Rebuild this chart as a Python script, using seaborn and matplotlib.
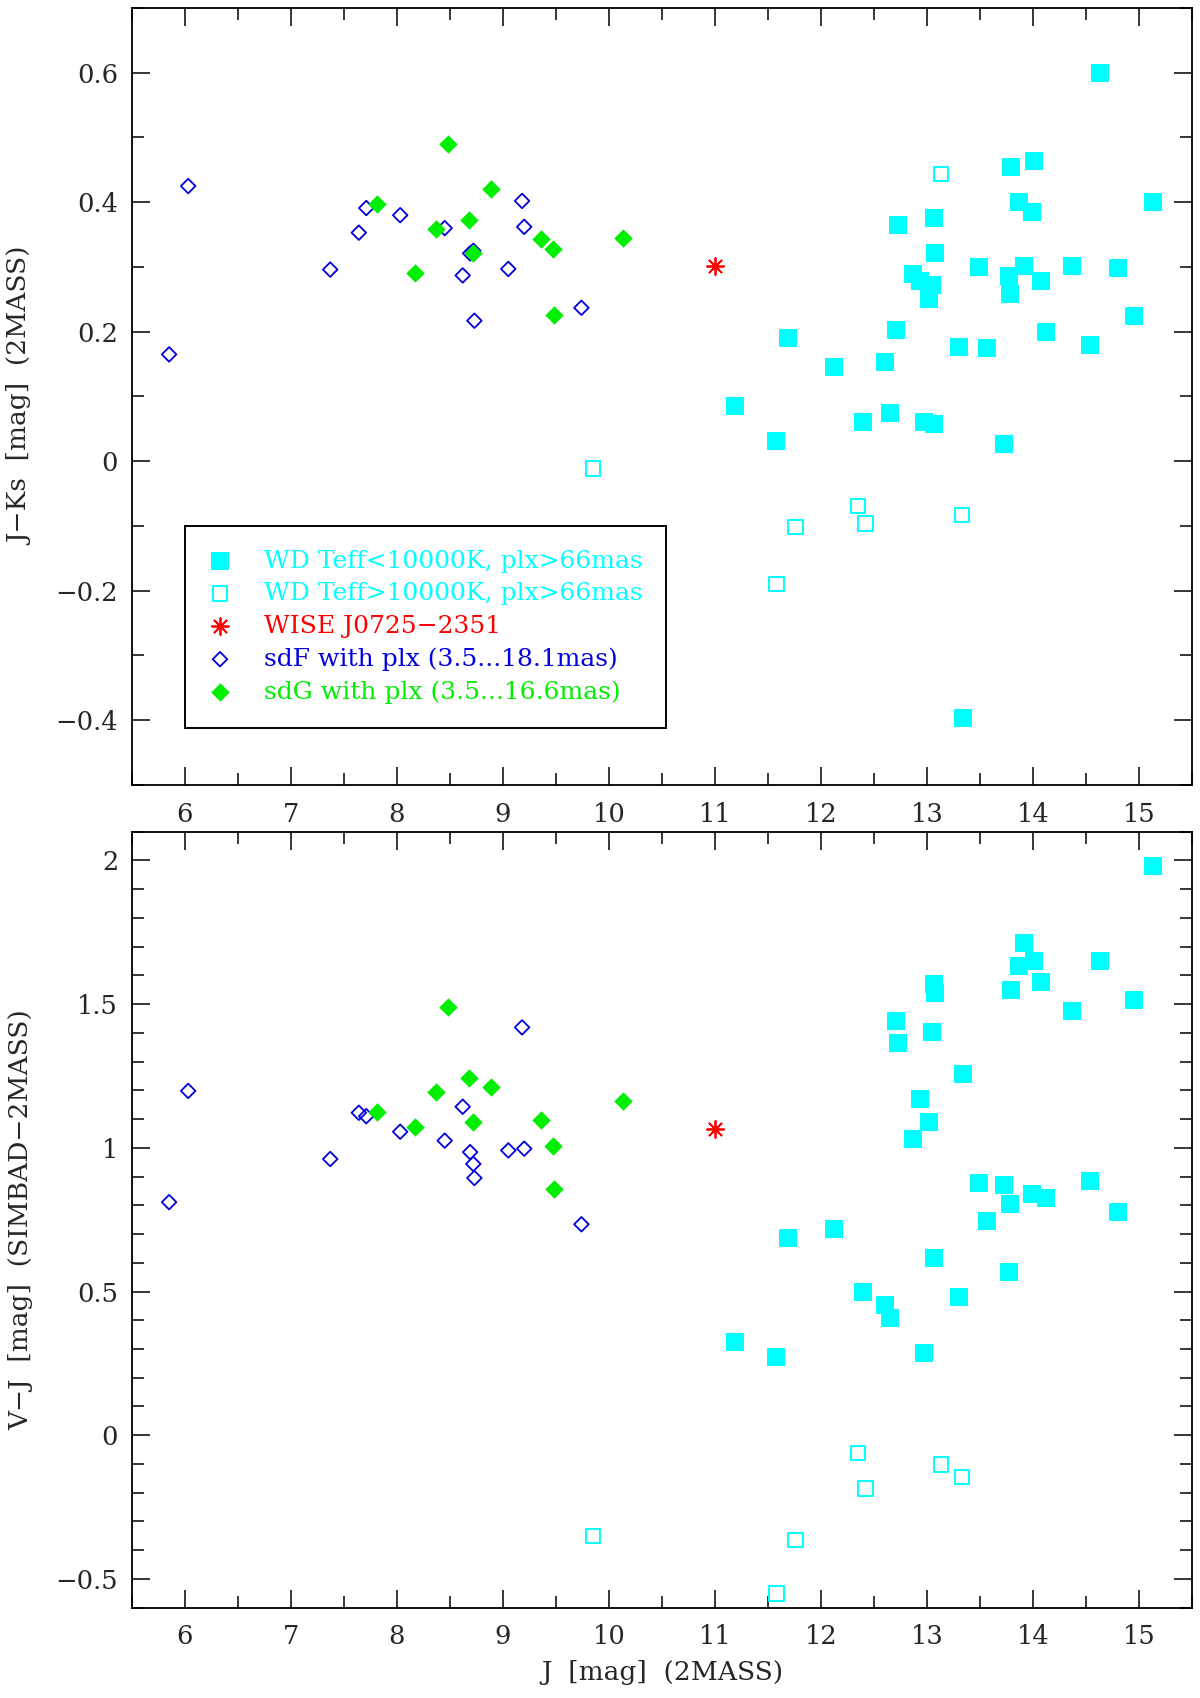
import numpy as np
import matplotlib
matplotlib.use("Agg")
import matplotlib.pyplot as plt
from matplotlib.ticker import MultipleLocator, FuncFormatter
import seaborn as sns

# WD, Teff < 10000 K (filled squares)
wd_cool_j = [11.19, 11.58, 11.69, 12.12, 12.40, 12.60, 12.65, 12.71, 12.73, 12.87,
             12.93, 12.97, 13.02, 13.05, 13.07, 13.07, 13.08, 13.30, 13.34, 13.49,
             13.57, 13.73, 13.77, 13.78, 13.79, 13.87, 13.92, 13.99, 14.01, 14.08,
             14.12, 14.37, 14.54, 14.63, 14.80, 14.95, 15.13]
wd_cool_jk = [0.085, 0.032, 0.191, 0.146, 0.061, 0.153, 0.075, 0.203, 0.365, 0.289,
              0.278, 0.060, 0.251, 0.272, 0.376, 0.057, 0.322, 0.176, -0.396, 0.300,
              0.175, 0.026, 0.286, 0.258, 0.455, 0.401, 0.302, 0.385, 0.464, 0.279,
              0.199, 0.302, 0.179, 0.600, 0.299, 0.225, 0.401]
wd_cool_vj = [0.325, 0.273, 0.686, 0.716, 0.497, 0.452, 0.408, 1.443, 1.366, 1.032,
              1.170, 0.287, 1.089, 1.404, 1.570, 0.618, 1.540, 0.481, 1.258, 0.879,
              0.747, 0.870, 0.567, 0.803, 1.548, 1.631, 1.711, 0.839, 1.649, 1.576,
              0.824, 1.475, 0.883, 1.649, 0.777, 1.513, 1.980]

# WD, Teff > 10000 K (open squares)
wd_hot_j = [9.85, 11.58, 11.76, 12.35, 12.42, 13.13, 13.33]
wd_hot_jk = [-0.011, -0.190, -0.102, -0.069, -0.096, 0.444, -0.083]
wd_hot_vj = [-0.350, -0.551, -0.365, -0.062, -0.186, -0.102, -0.146]

# WISE J0725-2351
wise_j = [11.0]
wise_jk = [0.302]
wise_vj = [1.064]

# sdF (open diamonds)
sdf_j = [5.85, 6.03, 7.37, 7.64, 7.71, 8.03, 8.45, 8.62, 8.69, 8.72,
         8.73, 9.05, 9.18, 9.20, 9.74]
sdf_jk = [0.165, 0.425, 0.296, 0.353, 0.391, 0.380, 0.360, 0.287, 0.321, 0.325,
          0.217, 0.297, 0.402, 0.362, 0.237]
sdf_vj = [0.811, 1.198, 0.961, 1.122, 1.110, 1.056, 1.025, 1.143, 0.985, 0.944,
          0.895, 0.991, 1.419, 0.997, 0.734]

# sdG (filled diamonds)
sdg_j = [7.81, 8.17, 8.37, 8.48, 8.68, 8.72, 8.89, 9.36, 9.47, 9.48, 10.13]
sdg_jk = [0.398, 0.290, 0.358, 0.490, 0.372, 0.322, 0.421, 0.343, 0.327, 0.226, 0.344]
sdg_vj = [1.123, 1.071, 1.193, 1.491, 1.244, 1.089, 1.212, 1.096, 1.007, 0.856, 1.164]

labels = ["WD Teff<10000K, plx>66mas", "WD Teff>10000K, plx>66mas",
          "WISE J0725\u22122351", "sdF with plx (3.5...18.1mas)",
          "sdG with plx (3.5...16.6mas)"]
CYAN, RED, BLUE, GREEN = "#00ffff", "#ff0000", "#0000e0", "#00ee00"
label_colors = [CYAN, CYAN, RED, BLUE, GREEN]

sns.set_style("ticks")
plt.rcParams["font.family"] = ["DejaVu Serif"]
plt.rcParams["axes.unicode_minus"] = True

fig = plt.figure(figsize=(12, 16.98), dpi=100)
ax1 = fig.add_axes([0.110, 0.5377, 0.8833, 0.4576])
ax2 = fig.add_axes([0.110, 0.0532, 0.8833, 0.4570])


def draw(ax, ycol_cool, ycol_hot, ycol_wise, ycol_sdf, ycol_sdg):
    sns.scatterplot(x=wd_cool_j, y=ycol_cool, ax=ax, marker="s", s=150,
                    color=CYAN, edgecolor=CYAN, linewidth=0, label=labels[0])
    sns.scatterplot(x=wd_hot_j, y=ycol_hot, ax=ax, marker="s", s=108,
                    facecolor="none", edgecolor=CYAN, linewidth=1.4, label=labels[1])
    sns.scatterplot(x=wise_j, y=ycol_wise, ax=ax, marker=(8, 2, 0), s=150,
                    color=RED, linewidth=1.3, label=labels[2])
    sns.scatterplot(x=sdf_j, y=ycol_sdf, ax=ax, marker="D", s=55,
                    facecolor="none", edgecolor=BLUE, linewidth=1.3, label=labels[3])
    sns.scatterplot(x=sdg_j, y=ycol_sdg, ax=ax, marker="D", s=88,
                    color=GREEN, edgecolor=GREEN, linewidth=0, label=labels[4])


def fmt(v, pos):
    s = "%g" % round(v, 3)
    return s.replace("-", "\u2212")


draw(ax1, wd_cool_jk, wd_hot_jk, wise_jk, sdf_jk, sdg_jk)
draw(ax2, wd_cool_vj, wd_hot_vj, wise_vj, sdf_vj, sdg_vj)

ax1.set_ylim(-0.5, 0.7)
ax2.set_ylim(-0.6, 2.1)
ax1.yaxis.set_major_locator(MultipleLocator(0.2))
ax1.yaxis.set_minor_locator(MultipleLocator(0.1))
ax2.yaxis.set_major_locator(MultipleLocator(0.5))
ax2.yaxis.set_minor_locator(MultipleLocator(0.1))

for ax in (ax1, ax2):
    ax.set_xlim(5.5, 15.5)
    ax.xaxis.set_major_locator(MultipleLocator(1))
    ax.xaxis.set_minor_locator(MultipleLocator(0.5))
    ax.xaxis.set_major_formatter(FuncFormatter(fmt))
    ax.yaxis.set_major_formatter(FuncFormatter(fmt))
    ax.tick_params(which="both", direction="in", top=True, right=True,
                   labelsize=18.5, width=1.1, color="black")
    ax.tick_params(axis="x", which="both", pad=12)
    ax.tick_params(axis="y", which="both", pad=10)
    ax.tick_params(which="major", length=13)
    ax.tick_params(which="minor", length=8.5)
    for sp in ax.spines.values():
        sp.set_linewidth(1.3)
        sp.set_color("black")
    ax.set_xlabel("")

ax1.set_ylabel("J\u2212Ks  [mag]  (2MASS)", fontsize=19)
ax2.set_ylabel("V\u2212J  [mag]  (SIMBAD\u22122MASS)", fontsize=19)
ax2.set_xlabel("J  [mag]  (2MASS)", fontsize=19)
ax1.yaxis.set_label_coords(-0.093, 0.5)
ax2.yaxis.set_label_coords(-0.093, 0.5)
ax2.xaxis.set_label_coords(0.5, -0.068)

ax2.get_legend().remove()
handles, labs = ax1.get_legend_handles_labels()
leg = ax1.legend(handles, labs, loc="upper left", bbox_to_anchor=(6.0, -0.1),
                 bbox_transform=ax1.transData, borderaxespad=0, fontsize=18,
                 frameon=True, fancybox=False, framealpha=1, edgecolor="black",
                 borderpad=0.95, handlelength=0.9, handletextpad=1.3,
                 labelspacing=0.38)
leg.get_frame().set_linewidth(1.4)
for t, c in zip(leg.get_texts(), label_colors):
    t.set_color(c)

fig.savefig("out.png", dpi=100)
